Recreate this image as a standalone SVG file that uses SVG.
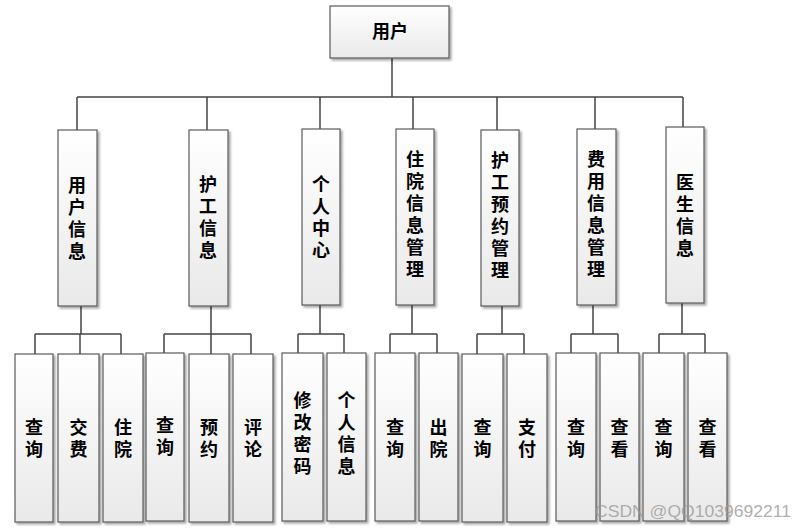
<svg xmlns="http://www.w3.org/2000/svg" width="807" height="530" viewBox="0 0 807 530">
<defs>
<linearGradient id="g" x1="0" y1="0" x2="0" y2="1">
<stop offset="0" stop-color="#ffffff"/>
<stop offset="1" stop-color="#e9e9e9"/>
</linearGradient>
<filter id="sh" x="-20%" y="-10%" width="150%" height="130%">
<feDropShadow dx="2" dy="2" stdDeviation="1.2" flood-color="#000" flood-opacity="0.35"/>
</filter>
</defs>
<style>
.box{fill:url(#g);stroke:#5a5a5a;stroke-width:1.2;filter:url(#sh)}
.t{font-family:"Noto Sans CJK SC","Microsoft YaHei",sans-serif;font-size:18px;font-weight:bold;fill:#000;text-anchor:middle}
.v{writing-mode:vertical-rl;letter-spacing:4px}
.ln{fill:none;stroke:#444;stroke-width:1.5}
.wm{font-family:"Liberation Sans",Arial,sans-serif;font-size:17px;fill:#9a9a9a;fill-opacity:0.8}
</style>
<rect width="807" height="530" fill="#fff"/>
<g id="connectors" class="ln">
<path d="M392,58V97M77,97H683M77,97V130M207,97V130M320,97V129M413,97V129M497,97V130M595,97V129M683,97V127"/>
<path d="M81,306V334M35,334H121M35,334V354M80,334V354M121,334V354"/>
<path d="M211,306V334M164,334H251M164,334V354M211,334V354M251,334V354"/>
<path d="M320,305V334M298,334H344M298,334V354M344,334V354"/>
<path d="M412,305V334M390,334H437M390,334V354M437,334V354"/>
<path d="M502,306V334M477,334H524M477,334V354M524,334V354"/>
<path d="M593,305V334M571,334H618M571,334V354M618,334V354"/>
<path d="M682,303V334M659,334H705M659,334V354M705,334V354"/>
</g>
<g id="root"><rect class="box" x="330" y="6" width="119" height="52"/><text class="t" x="390" y="38">用户</text></g>
<g id="m1"><rect class="box" x="58" y="130" width="39" height="176"/><text class="t v" x="77" y="220">用户信息</text></g>
<g id="m2"><rect class="box" x="189" y="130" width="39" height="176"/><text class="t v" x="208" y="219">护工信息</text></g>
<g id="m3"><rect class="box" x="302" y="129" width="38" height="176"/><text class="t v" x="321" y="219">个人中心</text></g>
<g id="m4"><rect class="box" x="396" y="129" width="38" height="176"/><text class="t v" x="415" y="216">住院信息管理</text></g>
<g id="m5"><rect class="box" x="481" y="130" width="38" height="176"/><text class="t v" x="500" y="217">护工预约管理</text></g>
<g id="m6"><rect class="box" x="577" y="129" width="39" height="176"/><text class="t v" x="596" y="216">费用信息管理</text></g>
<g id="m7"><rect class="box" x="666" y="127" width="38" height="176"/><text class="t v" x="685" y="217">医生信息</text></g>
<g id="b1"><rect class="box" x="15" y="354" width="38" height="168"/><text class="t v" x="34" y="440">查询</text></g>
<g id="b2"><rect class="box" x="58" y="354" width="41" height="168"/><text class="t v" x="78.5" y="440">交费</text></g>
<g id="b3"><rect class="box" x="103" y="354" width="40" height="168"/><text class="t v" x="123" y="440">住院</text></g>
<g id="b4"><rect class="box" x="146" y="353" width="38" height="168"/><text class="t v" x="165" y="438">查询</text></g>
<g id="b5"><rect class="box" x="189" y="354" width="40" height="168"/><text class="t v" x="209" y="440">预约</text></g>
<g id="b6"><rect class="box" x="233" y="354" width="40" height="168"/><text class="t v" x="253" y="440">评论</text></g>
<g id="b7"><rect class="box" x="282" y="353" width="41" height="168"/><text class="t v" x="302.5" y="435">修改密码</text></g>
<g id="b8"><rect class="box" x="327" y="353" width="39" height="168"/><text class="t v" x="346.5" y="435">个人信息</text></g>
<g id="b9"><rect class="box" x="375" y="353" width="40" height="168"/><text class="t v" x="395" y="440">查询</text></g>
<g id="b10"><rect class="box" x="419" y="353" width="39" height="168"/><text class="t v" x="438.5" y="440">出院</text></g>
<g id="b11"><rect class="box" x="462" y="354" width="41" height="168"/><text class="t v" x="482.5" y="440">查询</text></g>
<g id="b12"><rect class="box" x="507" y="354" width="40" height="168"/><text class="t v" x="527" y="440">支付</text></g>
<g id="b13"><rect class="box" x="556" y="353" width="40" height="168"/><text class="t v" x="576" y="440">查询</text></g>
<g id="b14"><rect class="box" x="600" y="353" width="39" height="168"/><text class="t v" x="619.5" y="440">查看</text></g>
<g id="b15"><rect class="box" x="643" y="353" width="41" height="168"/><text class="t v" x="663.5" y="440">查询</text></g>
<g id="b16"><rect class="box" x="688" y="353" width="39" height="168"/><text class="t v" x="707.5" y="440">查看</text></g>
<text class="wm" x="595" y="517" textLength="196" lengthAdjust="spacingAndGlyphs">CSDN @QQ1039692211</text>
</svg>
